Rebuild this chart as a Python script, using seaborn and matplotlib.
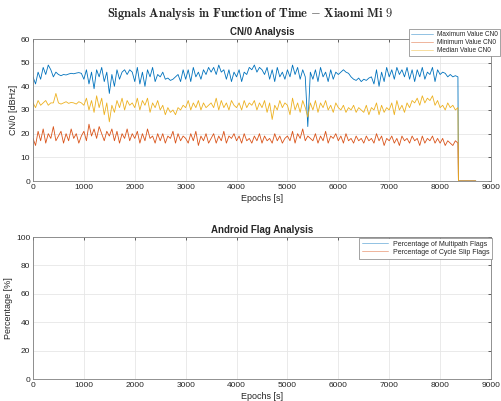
import numpy as np
import pandas as pd
import matplotlib
matplotlib.use("Agg")
import matplotlib.pyplot as plt
import seaborn as sns

# ---------------- data (~50 s sampling) ----------------
epochs = list(range(0, 8400, 50)) + [8360, 8400, 8450, 8500, 8550, 8600, 8650, 8700]
max_cn0 = [
    44, 41, 46, 43, 48, 45, 49, 47, 44, 46,
    45, 44.5, 45, 44.8, 45.2, 45.5, 45.3, 45.6, 45.8, 45.5,
    43, 47, 41, 46, 39, 47, 44, 48, 42, 46,
    37, 45, 40, 47, 43, 46, 47, 45, 47, 46,
    42, 48, 41, 46, 40, 47, 44, 48, 42, 45,
    44, 46, 43, 43.5, 42.5, 43, 44, 45, 42, 47,
    43, 47, 42, 48, 44, 46, 43, 47, 45, 48,
    46, 48, 45, 49, 46, 47, 43, 47, 42, 46,
    44, 47, 42, 46, 45, 48, 47, 49, 46, 48,
    47, 45, 48, 43, 47, 42, 48, 44, 46, 43,
    47, 44, 49, 45, 48, 43, 47, 44, 23, 46,
    43, 47, 42, 48, 44, 46, 42, 47, 43, 46,
    45, 46, 47, 46, 45.5, 44, 43, 42.5, 43.5, 42,
    43, 42.5, 43.5, 44, 41, 47, 40, 46, 42, 48,
    44, 47, 43, 48, 45, 47, 44, 48, 43, 47,
    42, 47, 44, 48, 43, 46, 45, 48, 42, 47,
    45, 46, 45.5, 44, 45, 44, 44.5, 44,
    0, 0, 0, 0, 0, 0, 0, 0,
]
min_cn0 = [
    18, 15, 21, 17, 22, 16, 20, 18, 23, 17,
    19, 21, 16, 20, 17, 22, 18, 20, 16, 19,
    21, 17, 24, 19, 22, 18, 23, 20, 17, 21,
    19, 22, 17, 21, 16, 20, 18, 22, 17, 20,
    18, 21, 16, 20, 17, 22, 18, 19, 16, 20,
    17, 20, 16, 19, 18, 21, 16, 20, 17, 19,
    18, 16, 20, 17, 21, 15, 19, 17, 20, 16,
    18, 20, 16, 19, 17, 21, 16, 19, 18, 20,
    17, 19, 16, 20, 17, 18, 16, 19, 17, 20,
    16, 19, 17, 18, 16, 20, 17, 19, 16, 18,
    19, 17, 21, 16, 20, 18, 22, 17, 19, 18,
    17, 20, 16, 19, 17, 21, 16, 19, 18, 20,
    17, 19, 16, 20, 17, 18, 16, 19, 17, 18,
    16, 19, 17, 18, 16, 20, 17, 19, 15, 18,
    17, 19, 16, 18, 15, 19, 17, 18, 16, 19,
    17, 18, 15, 19, 16, 18, 17, 19, 16, 18,
    16, 18, 15, 17, 16, 15, 17, 16,
    0, 0, 0, 0, 0, 0, 0, 0,
]
median_cn0 = [
    33, 31, 34, 32, 33, 34, 32, 33, 33, 37,
    33, 32.5, 33, 33.5, 32.8, 33.2, 33, 32.5, 33.5, 33,
    32, 35, 30, 34, 29, 36, 31, 35, 28, 33,
    25, 32, 29, 34, 31, 35, 30, 34, 32, 33,
    31, 35, 30, 34, 32, 35, 29, 33, 31, 34,
    30, 32, 28, 31, 29, 30, 28, 31, 30, 32,
    31, 34, 30, 33, 31, 34, 30, 33, 31, 32,
    33, 31, 35, 30, 34, 31, 33, 30, 34, 32,
    31, 33, 30, 34, 31, 33, 32, 34, 30, 33,
    31, 34, 29, 33, 26, 32, 30, 34, 31, 33,
    32, 28, 35, 30, 33, 29, 34, 31, 27, 33,
    30, 34, 29, 33, 31, 34, 30, 32, 29, 33,
    31, 30, 32, 29, 31, 30, 32, 29, 31, 30,
    29, 32, 28, 31, 30, 33, 28, 32, 29, 31,
    30, 33, 28, 34, 30, 32, 29, 33, 31, 34,
    33, 35, 32, 36, 33, 35, 34, 36, 32, 34,
    31, 32, 30, 33, 31, 32, 30, 31,
    0, 0, 0, 0, 0, 0, 0, 0,
]
n_pts = len(epochs)
multipath_pct = [0.0] * n_pts
cycle_slip_pct = [0.0] * n_pts

x_ticks = [0, 1000, 2000, 3000, 4000, 5000, 6000, 7000, 8000, 9000]
y_ticks_top = [0, 10, 20, 30, 40, 50, 60]
y_ticks_bot = [0, 20, 40, 60, 80, 100]

# ---------------- style ----------------
sns.set_style("white")
plt.rcParams["font.family"] = ["Liberation Sans", "DejaVu Sans"]
plt.rcParams["mathtext.fontset"] = "cm"

C_BLUE = "#0072BD"
C_RED = "#D95319"
C_YEL = "#EDB120"
AX_COL = "#262626"
GRID_COL = "#e6e6e6"

fig = plt.figure(figsize=(5.01, 4.01), dpi=100)
ax1 = fig.add_axes([33/501, 1-181/401, 458/501, 142/401])
ax2 = fig.add_axes([33/501, 1-379/401, 458/501, 142/401])

lw = 0.6
sns.lineplot(x=epochs, y=max_cn0, ax=ax1, color=C_BLUE, linewidth=lw, label="Maximum Value CN0")
sns.lineplot(x=epochs, y=min_cn0, ax=ax1, color=C_RED, linewidth=lw, label="Minimum Value CN0")
sns.lineplot(x=epochs, y=median_cn0, ax=ax1, color=C_YEL, linewidth=lw, label="Median Value CN0")

sns.lineplot(x=epochs, y=multipath_pct, ax=ax2, color=C_BLUE, linewidth=lw, label="Percentage of Multipath Flags")
sns.lineplot(x=epochs, y=cycle_slip_pct, ax=ax2, color=C_RED, linewidth=lw, label="Percentage of Cycle Slip Flags")

for ax, yt, ylim in [(ax1, y_ticks_top, (0, 60)), (ax2, y_ticks_bot, (0, 100))]:
    ax.set_xlim(0, 9000)
    ax.set_ylim(*ylim)
    ax.set_xticks(x_ticks)
    ax.set_yticks(yt)
    ax.grid(True, color=GRID_COL, linewidth=0.6)
    ax.set_axisbelow(True)
    ax.tick_params(direction="in", length=2.5, width=0.5, labelsize=6,
                   colors=AX_COL, top=True, right=True, pad=2)
    for sp in ax.spines.values():
        sp.set_color("#7f7f7f")
        sp.set_linewidth(0.6)
    ax.set_xlabel("Epochs [s]", fontsize=6.5, color=AX_COL, labelpad=2)

ax1.set_ylabel("CN/0 [dBHz]", fontsize=6.5, color=AX_COL, labelpad=2)
ax2.set_ylabel("Percentage [%]", fontsize=6.5, color=AX_COL, labelpad=2)
ax1.set_title("CN/0 Analysis", fontsize=7, fontweight="bold", pad=3)
ax2.set_title("Android Flag Analysis", fontsize=7, fontweight="bold", pad=3)

leg1 = ax1.legend(loc="upper right", bbox_to_anchor=(500/501, 1-29/401),
                  bbox_transform=fig.transFigure, fontsize=4.7, frameon=True,
                  fancybox=False, edgecolor="#7f7f7f", framealpha=1,
                  borderpad=0.3, labelspacing=0.15, handlelength=3.4,
                  handletextpad=0.6, borderaxespad=0)
leg1.get_frame().set_linewidth(0.5)
for l in leg1.get_lines():
    l.set_alpha(0.5)

leg2 = ax2.legend(loc="upper right", bbox_to_anchor=(492/501, 1-238/401),
                  bbox_transform=fig.transFigure, fontsize=5, frameon=True,
                  fancybox=False, edgecolor="#7f7f7f", framealpha=1,
                  borderpad=0.4, labelspacing=0.15, handlelength=3.8,
                  handletextpad=0.6, borderaxespad=0)
leg2.get_frame().set_linewidth(0.5)
for l in leg2.get_lines():
    l.set_alpha(0.5)

fig.text(0.5, 1-14/401,
         r"$\mathbf{Signals\ Analysis\ in\ Function\ of\ Time\ {-}\ Xiaomi\ Mi\ 9}$",
         ha="center", va="center", fontsize=9)

fig.savefig("out.png", dpi=100)
